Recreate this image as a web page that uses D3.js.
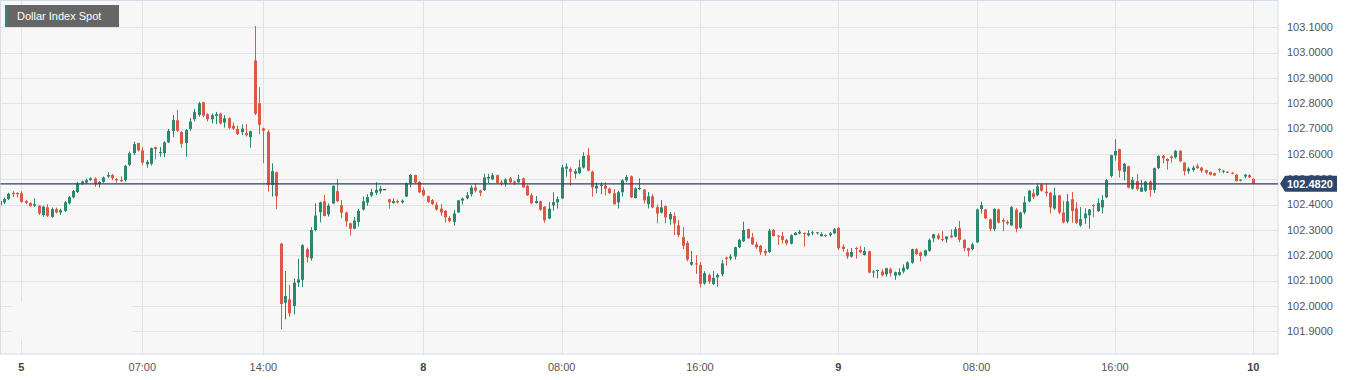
<!DOCTYPE html>
<html>
<head>
<meta charset="utf-8">
<script src="https://cdn.jsdelivr.net/npm/d3@7"></script>
<style>
  html, body { margin: 0; padding: 0; background: #fff; }
  svg { display: block; font-family: "Liberation Sans", Arial, sans-serif; }
</style>
</head>
<body>
<script>
// 15 min candles, index 0 = day 5 00:00 (weekend gap removed)
const firstIndex = -5;
const candles = [
  // [open, high, low, close]
  [102.398,102.421,102.392,102.414],[102.409,102.428,102.402,102.422],[102.422,102.447,102.418,102.443],[102.447,102.453,102.429,102.442],[102.446,102.449,102.428,102.441],
  [102.445,102.453,102.407,102.411],[102.414,102.418,102.402,102.407],[102.406,102.410,102.392,102.394],[102.396,102.425,102.390,102.402],[102.396,102.398,102.359,102.365],
  [102.359,102.396,102.352,102.392],[102.389,102.402,102.352,102.356],[102.352,102.389,102.348,102.382],[102.382,102.388,102.365,102.369],[102.369,102.384,102.359,102.378],
  [102.375,102.414,102.371,102.409],[102.405,102.434,102.400,102.429],[102.429,102.458,102.425,102.454],[102.450,102.490,102.446,102.484],[102.483,102.495,102.478,102.491],
  [102.487,102.503,102.482,102.497],[102.497,102.508,102.493,102.504],[102.503,102.508,102.471,102.480],[102.482,102.492,102.467,102.490],[102.490,102.511,102.486,102.507],
  [102.511,102.528,102.505,102.517],[102.517,102.521,102.497,102.504],[102.501,102.505,102.487,102.496],[102.497,102.512,102.490,102.492],[102.497,102.557,102.491,102.553],
  [102.557,102.610,102.553,102.603],[102.603,102.649,102.597,102.639],[102.643,102.644,102.610,102.614],[102.614,102.628,102.558,102.566],[102.559,102.576,102.546,102.569],
  [102.561,102.625,102.554,102.623],[102.627,102.629,102.579,102.619],[102.603,102.628,102.589,102.608],[102.603,102.650,102.587,102.646],[102.646,102.699,102.643,102.691],
  [102.691,102.754,102.666,102.734],[102.733,102.774,102.687,102.692],[102.686,102.690,102.625,102.640],[102.643,102.698,102.589,102.694],[102.699,102.742,102.692,102.728],
  [102.737,102.778,102.728,102.765],[102.754,102.806,102.747,102.800],[102.804,102.806,102.745,102.751],[102.757,102.760,102.728,102.737],[102.737,102.760,102.721,102.753],
  [102.750,102.766,102.718,102.757],[102.759,102.763,102.716,102.721],[102.724,102.754,102.704,102.741],[102.741,102.745,102.698,102.703],[102.711,102.724,102.695,102.700],
  [102.699,102.712,102.675,102.679],[102.686,102.717,102.674,102.700],[102.682,102.718,102.669,102.674],[102.666,102.692,102.625,102.690],[102.969,103.105,102.754,102.759],
  [102.800,102.863,102.678,102.715],[102.701,102.704,102.563,102.692],[102.687,102.695,102.451,102.478],[102.478,102.563,102.432,102.532],[102.528,102.530,102.382,102.433],
  [102.246,102.249,101.908,102.008],[102.013,102.138,101.947,102.039],[102.026,102.083,101.958,101.971],[102.000,102.109,101.967,102.092],[102.092,102.186,102.076,102.105],
  [102.103,102.244,102.074,102.240],[102.224,102.230,102.172,102.192],[102.188,102.311,102.179,102.300],[102.300,102.405,102.294,102.357],[102.370,102.412,102.330,102.409],
  [102.413,102.438,102.353,102.355],[102.362,102.405,102.353,102.396],[102.405,102.476,102.402,102.474],[102.453,102.501,102.410,102.414],[102.397,102.418,102.346,102.368],
  [102.369,102.372,102.313,102.334],[102.326,102.329,102.278,102.305],[102.305,102.351,102.303,102.337],[102.332,102.383,102.313,102.376],[102.381,102.432,102.376,102.413],
  [102.408,102.441,102.396,102.430],[102.436,102.462,102.430,102.450],[102.447,102.488,102.438,102.458],[102.453,102.474,102.443,102.463],[102.461,102.461,102.461,102.461],
  [102.421,102.424,102.384,102.409],[102.406,102.425,102.404,102.414],[102.414,102.421,102.405,102.409],[102.409,102.421,102.404,102.416],[102.432,102.487,102.430,102.484],
  [102.484,102.520,102.468,102.517],[102.517,102.518,102.484,102.487],[102.490,102.493,102.445,102.449],[102.458,102.468,102.432,102.437],[102.433,102.436,102.407,102.411],
  [102.418,102.422,102.398,102.402],[102.400,102.410,102.376,102.381],[102.384,102.402,102.356,102.369],[102.375,102.379,102.330,102.350],[102.348,102.355,102.330,102.335],
  [102.332,102.379,102.317,102.365],[102.369,102.418,102.368,102.417],[102.416,102.428,102.400,102.424],[102.425,102.450,102.421,102.437],[102.441,102.476,102.432,102.468],
  [102.468,102.484,102.449,102.455],[102.455,102.459,102.434,102.447],[102.457,102.522,102.454,102.507],[102.503,102.522,102.484,102.509],[102.500,102.525,102.496,102.516],
  [102.516,102.518,102.483,102.486],[102.488,102.497,102.475,102.484],[102.483,102.504,102.471,102.499],[102.504,102.509,102.486,102.488],[102.491,102.495,102.478,102.486],
  [102.488,102.518,102.487,102.501],[102.504,102.507,102.466,102.468],[102.474,102.478,102.434,102.437],[102.437,102.445,102.402,102.405],[102.406,102.434,102.404,102.414],
  [102.413,102.416,102.375,102.380],[102.392,102.394,102.329,102.338],[102.345,102.410,102.343,102.384],[102.397,102.449,102.376,102.410],[102.409,102.432,102.384,102.422],
  [102.425,102.557,102.422,102.547],[102.542,102.563,102.511,102.550],[102.541,102.547,102.475,102.530],[102.522,102.541,102.503,102.532],[102.524,102.578,102.521,102.547],
  [102.546,102.607,102.542,102.592],[102.595,102.623,102.532,102.534],[102.530,102.534,102.432,102.468],[102.464,102.487,102.445,102.475],[102.474,102.488,102.441,102.479],
  [102.475,102.488,102.437,102.463],[102.463,102.468,102.442,102.445],[102.445,102.461,102.400,102.401],[102.409,102.455,102.385,102.449],[102.449,102.500,102.432,102.496],
  [102.496,102.517,102.488,102.509],[102.512,102.515,102.426,102.429],[102.426,102.468,102.424,102.464],[102.461,102.504,102.458,102.466],[102.459,102.462,102.404,102.417],
  [102.402,102.450,102.385,102.433],[102.433,102.441,102.386,102.389],[102.390,102.401,102.326,102.365],[102.368,102.418,102.365,102.389],[102.394,102.397,102.326,102.350],
  [102.342,102.371,102.321,102.363],[102.355,102.369,102.280,102.326],[102.318,102.339,102.271,102.280],[102.272,102.311,102.224,102.238],[102.249,102.257,102.176,102.183],
  [102.163,102.217,102.159,102.174],[102.168,102.201,102.126,102.164],[102.162,102.174,102.074,102.087],[102.089,102.137,102.084,102.129],[102.122,102.129,102.087,102.096],
  [102.087,102.137,102.082,102.111],[102.113,102.129,102.076,102.122],[102.125,102.182,102.117,102.168],[102.191,102.195,102.159,102.186],[102.188,102.205,102.180,102.195],
  [102.195,102.234,102.183,102.232],[102.232,102.265,102.228,102.261],[102.255,102.333,102.253,102.300],[102.303,102.305,102.265,102.267],[102.271,102.288,102.241,102.243],
  [102.243,102.253,102.225,102.232],[102.238,102.241,102.201,102.212],[102.217,102.225,102.197,102.208],[102.213,102.305,102.209,102.297],[102.300,102.304,102.274,102.276],
  [102.278,102.280,102.241,102.274],[102.276,102.292,102.247,102.261],[102.261,102.265,102.239,102.247],[102.246,102.283,102.243,102.279],[102.280,102.292,102.278,102.289],
  [102.286,102.300,102.283,102.293],[102.288,102.291,102.234,102.284],[102.279,102.299,102.274,102.287],[102.287,102.297,102.280,102.291],[102.287,102.292,102.282,102.291],
  [102.275,102.291,102.274,102.284],[102.280,102.283,102.272,102.276],[102.279,102.292,102.274,102.287],[102.287,102.308,102.284,102.303],[102.308,102.312,102.221,102.228],
  [102.234,102.243,102.214,102.225],[102.212,102.225,102.186,102.195],[102.195,102.229,102.191,102.213],[102.229,102.233,102.187,102.226],[102.221,102.237,102.208,102.212],
  [102.201,102.232,102.199,102.217],[102.216,102.218,102.129,102.132],[102.132,102.142,102.112,102.136],[102.139,102.143,102.109,102.142],[102.136,102.145,102.116,102.122],
  [102.125,102.151,102.116,102.149],[102.145,102.151,102.116,102.129],[102.120,102.136,102.103,102.133],[102.122,102.149,102.120,102.134],[102.136,102.164,102.129,102.151],
  [102.147,102.176,102.143,102.172],[102.171,102.226,102.167,102.224],[102.224,102.228,102.201,102.205],[102.211,102.214,102.176,102.197],[102.199,102.222,102.195,102.220],
  [102.218,102.266,102.214,102.261],[102.267,102.285,102.251,102.283],[102.279,102.287,102.261,102.266],[102.265,102.295,102.255,102.261],[102.263,102.276,102.249,102.274],
  [102.278,102.303,102.268,102.271],[102.274,102.312,102.271,102.303],[102.307,102.336,102.251,102.261],[102.261,102.263,102.216,102.228],[102.228,102.230,102.196,102.218],
  [102.224,102.250,102.220,102.243],[102.251,102.384,102.249,102.381],[102.383,102.412,102.365,102.398],[102.381,102.383,102.343,102.346],[102.342,102.345,102.295,102.305],
  [102.303,102.386,102.295,102.383],[102.381,102.384,102.326,102.329],[102.339,102.346,102.295,102.333],[102.332,102.339,102.320,102.326],[102.318,102.394,102.316,102.390],
  [102.380,102.386,102.291,102.305],[102.309,102.372,102.304,102.369],[102.369,102.433,102.362,102.409],[102.413,102.458,102.410,102.455],[102.445,102.462,102.422,102.430],
  [102.437,102.484,102.433,102.472],[102.480,102.484,102.451,102.455],[102.451,102.484,102.432,102.445],[102.447,102.451,102.365,102.389],[102.385,102.467,102.379,102.437],
  [102.437,102.438,102.363,102.369],[102.369,102.414,102.326,102.330],[102.333,102.442,102.326,102.413],[102.421,102.450,102.329,102.375],[102.385,102.410,102.324,102.328],
  [102.318,102.390,102.313,102.343],[102.346,102.386,102.324,102.365],[102.358,102.383,102.305,102.381],[102.398,102.402,102.350,102.394],[102.374,102.425,102.371,102.406],
  [102.389,102.437,102.365,102.418],[102.429,102.501,102.426,102.497],[102.513,102.597,102.507,102.595],[102.594,102.658,102.574,102.612],[102.619,102.621,102.507,102.534],
  [102.530,102.565,102.496,102.561],[102.551,102.554,102.464,102.467],[102.463,102.509,102.459,102.497],[102.493,102.521,102.455,102.461],[102.451,102.497,102.450,102.468],
  [102.455,102.493,102.450,102.491],[102.491,102.496,102.432,102.458],[102.458,102.546,102.447,102.544],[102.544,102.595,102.541,102.592],[102.592,102.596,102.563,102.583],
  [102.580,102.583,102.538,102.572],[102.590,102.594,102.566,102.584],[102.587,102.616,102.582,102.612],[102.612,102.615,102.568,102.571],[102.566,102.568,102.515,102.532],
  [102.532,102.549,102.522,102.542],[102.537,102.554,102.530,102.546],[102.553,102.562,102.541,102.544],[102.546,102.549,102.526,102.534],[102.536,102.538,102.520,102.526],
  [102.529,102.530,102.515,102.518],[102.524,102.526,102.513,102.515],[102.541,102.544,102.526,102.537],[102.532,102.537,102.524,102.534],[102.530,102.532,102.524,102.526],
  [102.526,102.529,102.520,102.522],[102.518,102.521,102.491,102.493],[102.495,102.500,102.492,102.499],[102.511,102.521,102.504,102.518],[102.516,102.520,102.505,102.508],
  [102.501,102.504,102.482,102.482]
];

const yTicks = [101.9, 102.0, 102.1, 102.2, 102.3, 102.4, 102.5, 102.6, 102.7, 102.8, 102.9, 103.0, 103.1];
const xTickIndex = [0, 28, 56, 93, 125, 157, 189, 221, 253, 285];
const xTickLabels = ["5", "07:00", "14:00", "8", "08:00", "16:00", "9", "08:00", "16:00", "10"];
const xTickBold = [true, false, false, true, false, false, true, false, false, true];
const lastPrice = 102.482;
const title = "Dollar Index Spot";

const W = 1355, H = 380;
const plot = { left: 0.5, top: 0.5, right: 1278, bottom: 354 };
const GREEN = "#2b876d", RED = "#db5845";

const svg = d3.select("body").append("svg").attr("width", W).attr("height", H);

const x = d3.scaleLinear().domain([0, 285]).range([21.3, 1253.3]);
const y = d3.scaleLinear().domain([101.9, 103.1]).range([331.3, 27.3]);
const crisp = v => Math.round(v) + 0.5;

// plot background
svg.append("rect")
  .attr("x", plot.left).attr("y", plot.top)
  .attr("width", plot.right - plot.left).attr("height", plot.bottom - plot.top)
  .attr("fill", "#f7f7f7");

// grid
svg.append("g").selectAll("line").data(yTicks).join("line")
  .attr("x1", plot.left).attr("x2", plot.right)
  .attr("y1", d => crisp(y(d))).attr("y2", d => crisp(y(d)))
  .attr("stroke", "#e3e3e3");
svg.append("g").selectAll("line").data(xTickIndex).join("line")
  .attr("x1", d => crisp(x(d))).attr("x2", d => crisp(x(d)))
  .attr("y1", plot.top).attr("y2", plot.bottom)
  .attr("stroke", "#e3e3e3");

// blank logo spot bottom-left
svg.append("rect").attr("x", 12).attr("y", 302).attr("width", 120).attr("height", 37).attr("fill", "#f7f7f7");

// border
svg.append("rect")
  .attr("x", plot.left).attr("y", plot.top)
  .attr("width", plot.right - plot.left).attr("height", plot.bottom - plot.top)
  .attr("fill", "none").attr("stroke", "#d5dbe8");

// candles
const rows = candles.map((c, k) => ({ i: firstIndex + k, o: c[0], h: c[1], l: c[2], c: c[3] }));
const colorOf = d => d.c > d.o ? GREEN : (d.c < d.o ? RED : "#222");
const cg = svg.append("g").attr("clip-path", "url(#clip)");
svg.append("clipPath").attr("id", "clip").append("rect")
  .attr("x", 1).attr("y", 1).attr("width", plot.right - 1).attr("height", plot.bottom - 1);

cg.selectAll("line.wick").data(rows).join("line").attr("class", "wick")
  .attr("x1", d => crisp(x(d.i))).attr("x2", d => crisp(x(d.i)))
  .attr("y1", d => y(d.h)).attr("y2", d => y(d.l))
  .attr("stroke", colorOf).attr("stroke-width", 1);
cg.selectAll("rect.body").data(rows).join("rect").attr("class", "body")
  .attr("x", d => Math.round(x(d.i)) - 1)
  .attr("width", 3)
  .attr("y", d => y(Math.max(d.o, d.c)))
  .attr("height", d => Math.max(1, Math.abs(y(d.o) - y(d.c))))
  .attr("fill", colorOf);

// last price line
svg.append("line")
  .attr("x1", plot.left).attr("x2", plot.right)
  .attr("y1", y(lastPrice)).attr("y2", y(lastPrice))
  .attr("stroke", "#2d3f5f").attr("stroke-width", 1.2);

// y axis labels (102.5000 sits under the price tag, as in the source)
svg.append("g").selectAll("text").data(yTicks).join("text")
  .attr("x", 1287).attr("y", d => y(d)).attr("dy", "0.35em")
  .attr("font-size", 11).attr("fill", "#555")
  .text(d => d.toFixed(4));

// price tag
const py = y(lastPrice);
svg.append("path")
  .attr("d", `M1280,${py} L1285,${py - 8} L1337,${py - 8} L1337,${py + 8} L1285,${py + 8} Z`)
  .attr("fill", "#2e466b");
svg.append("text").attr("x", 1287).attr("y", py).attr("dy", "0.36em")
  .attr("font-size", 11).attr("font-weight", "bold").attr("fill", "#fff")
  .text(lastPrice.toFixed(4));

// x axis labels
svg.append("g").selectAll("text").data(xTickIndex).join("text")
  .attr("x", d => x(d)).attr("y", 367).attr("dy", "0.35em")
  .attr("text-anchor", "middle").attr("font-size", 11)
  .attr("font-weight", (d, k) => xTickBold[k] ? "bold" : "normal")
  .attr("fill", (d, k) => xTickBold[k] ? "#444" : "#555")
  .text((d, k) => xTickLabels[k]);

// title badge
svg.append("rect").attr("x", 5).attr("y", 5).attr("width", 114).attr("height", 22).attr("fill", "#666");
svg.append("rect").attr("x", 5).attr("y", 5).attr("width", 3).attr("height", 22).attr("fill", "#2b8a6e");
svg.append("text").attr("x", 17).attr("y", 16).attr("dy", "0.35em")
  .attr("font-size", 11).attr("fill", "#fff").text(title);
</script>
</body>
</html>
